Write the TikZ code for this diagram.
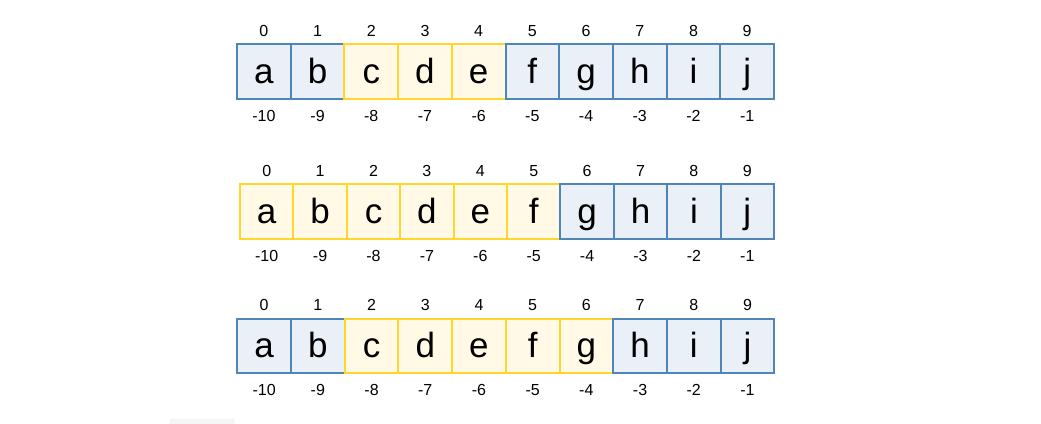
\documentclass[tikz,border=0pt]{standalone}
\usepackage{fontspec}
\setmainfont{Liberation Sans}
\definecolor{bline}{HTML}{4F85B8}
\definecolor{bfill}{HTML}{EAF0F7}
\definecolor{yline}{HTML}{FFD52E}
\definecolor{yfill}{HTML}{FFF9E6}
\begin{document}
\begin{tikzpicture}[x=1pt,y=-1pt,
  cell/.style={line width=2pt, minimum height=54.6pt, inner sep=0pt, anchor=center,
    text height=23.6pt, text depth=0pt, font=\fontsize{35}{35}\selectfont},
  idx/.style={font=\fontsize{16}{16}\selectfont, anchor=base, inner sep=0pt}]
\useasboundingbox (0,0) rectangle (1041,423);
\fill[gray!7, draw=gray!14, rounded corners=2pt] (170,419) rectangle (234,430);
\foreach \r/\x/\y/\w/\ya/\yb in {1/237/71.5/53.7/2/4, 2/240/211.7/53.4/0/5, 3/237.3/346/53.7/2/6} {
  \foreach \i/\ch/\n in {0/a/-10,1/b/-9,2/c/-8,3/d/-7,4/e/-6,5/f/-5,6/g/-4,7/h/-3,8/i/-2,9/j/-1} {
    \pgfmathsetmacro\cx{\x+(\i+0.5)*\w}
    \ifnum\i<\ya \def\dc{bline}\def\fc{bfill}\else
      \ifnum\i>\yb \def\dc{bline}\def\fc{bfill}\else
        \def\dc{yline}\def\fc{yfill}\fi\fi
    \node[cell, draw=\dc, fill=\fc, minimum width=\w pt] (r\r c\i) at (\cx,\y) {\ch};
    \node[idx] (t\r c\i) at (\cx,\y-35.5) {\i};
    \node[idx] (b\r c\i) at (\cx,\y+49.5) {\n};
  }
}
\end{tikzpicture}
\end{document}
